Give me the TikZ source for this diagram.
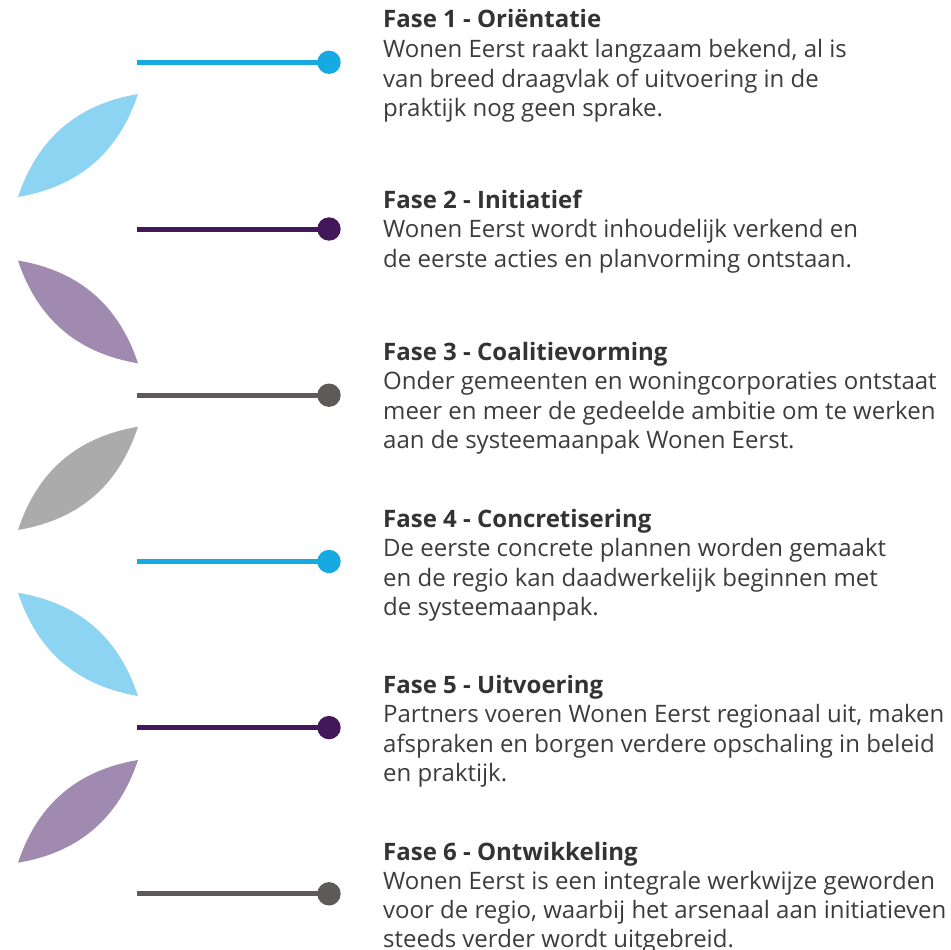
\documentclass[tikz,border=0pt]{standalone}
\usepackage{fontspec}
\setmainfont{Open Sans}
\definecolor{lnblue}{HTML}{17A9E1}
\definecolor{lfblue}{HTML}{8CD4F1}
\definecolor{lnpurple}{HTML}{42185B}
\definecolor{lfpurple}{HTML}{A08AAF}
\definecolor{lngray}{HTML}{5E5A59}
\definecolor{lfgray}{HTML}{ACABAC}
\definecolor{ttlcol}{HTML}{333333}
\definecolor{bdycol}{HTML}{3C3C3C}
\begin{document}
\begin{tikzpicture}[x=1pt,y=-1pt,
  ttl/.style={anchor=base west, inner sep=0pt, font=\bfseries\fontsize{24}{29}\selectfont, text=ttlcol},
  bdy/.style={anchor=base west, inner sep=0pt, font=\fontsize{24}{29}\selectfont, text=bdycol},
  dot/.style={circle, fill=#1, inner sep=0pt, minimum size=23.4pt},
  stem/.style={draw=#1, line width=5pt},
  leaf/.style={fill=#1}]
\useasboundingbox (0,0) rectangle (951,950);

% leaves
\fill[leaf=lfblue]   (18,197)   to[bend left=31] (138,94)    to[bend left=31] (18,197);
\fill[leaf=lfpurple] (18,260.5) to[bend right=31] (138,363.3) to[bend right=31] (18,260.5);
\fill[leaf=lfgray]   (18,530)   to[bend left=31] (138,426.7) to[bend left=31] (18,530);
\fill[leaf=lfblue]   (18,592.7) to[bend right=31] (138,696)   to[bend right=31] (18,592.7);
\fill[leaf=lfpurple] (18,862.7) to[bend left=31] (138,760)   to[bend left=31] (18,862.7);

% stems and dots
\coordinate (s1) at (137,62.3);
\coordinate (s2) at (137,229);
\coordinate (s3) at (137,395.2);
\coordinate (s4) at (137,561.5);
\coordinate (s5) at (137,727.6);
\coordinate (s6) at (137,893.8);
\node[dot=lnblue]   (d1) at (329,62.3) {};
\node[dot=lnpurple] (d2) at (329,229) {};
\node[dot=lngray]   (d3) at (329,395.2) {};
\node[dot=lnblue]   (d4) at (329,561.5) {};
\node[dot=lnpurple] (d5) at (329,727.6) {};
\node[dot=lngray]   (d6) at (329,893.8) {};
\draw[stem=lnblue]   (s1) -- (d1.center);
\draw[stem=lnpurple] (s2) -- (d2.center);
\draw[stem=lngray]   (s3) -- (d3.center);
\draw[stem=lnblue]   (s4) -- (d4.center);
\draw[stem=lnpurple] (s5) -- (d5.center);
\draw[stem=lngray]   (s6) -- (d6.center);

% texts
\node[ttl] (t1)  at (383,28)    {Fase 1 - Oriëntatie};
\node[bdy] (b1a) at (383,58)    {Wonen Eerst raakt langzaam bekend, al is};
\node[bdy] (b1b) at (383,87.5)  {van breed draagvlak of uitvoering in de};
\node[bdy] (b1c) at (383,117)   {praktijk nog geen sprake.};

\node[ttl] (t2)  at (383,208)   {Fase 2 - Initiatief};
\node[bdy] (b2a) at (383,237.5) {Wonen Eerst wordt inhoudelijk verkend en};
\node[bdy] (b2b) at (383,267)   {de eerste acties en planvorming ontstaan.};

\node[ttl] (t3)  at (383,360)   {Fase 3 - Coalitievorming};
\node[bdy] (b3a) at (383,389.5) {Onder gemeenten en woningcorporaties ontstaat};
\node[bdy] (b3b) at (383,419)   {meer en meer de gedeelde ambitie om te werken};
\node[bdy] (b3c) at (383,448.5) {aan de systeemaanpak Wonen Eerst.};

\node[ttl] (t4)  at (383,527)   {Fase 4 - Concretisering};
\node[bdy] (b4a) at (383,556.5) {De eerste concrete plannen worden gemaakt};
\node[bdy] (b4b) at (383,586)   {en de regio kan daadwerkelijk beginnen met};
\node[bdy] (b4c) at (383,615.5) {de systeemaanpak.};

\node[ttl] (t5)  at (383,693)   {Fase 5 - Uitvoering};
\node[bdy] (b5a) at (383,722.5) {Partners voeren Wonen Eerst regionaal uit, maken};
\node[bdy] (b5b) at (383,752)   {afspraken en borgen verdere opschaling in beleid};
\node[bdy] (b5c) at (383,781.5) {en praktijk.};

\node[ttl] (t6)  at (383,860)   {Fase 6 - Ontwikkeling};
\node[bdy] (b6a) at (383,889)   {Wonen Eerst is een integrale werkwijze geworden};
\node[bdy] (b6b) at (383,918)   {voor de regio, waarbij het arsenaal aan initiatieven};
\node[bdy] (b6c) at (383,947)   {steeds verder wordt uitgebreid.};
\end{tikzpicture}
\end{document}
